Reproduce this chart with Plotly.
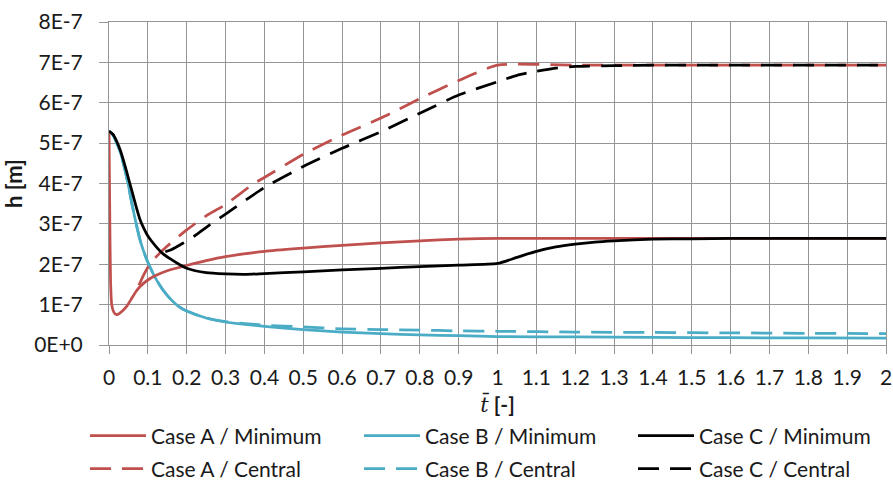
import plotly.graph_objects as go

# ---------------- data ----------------
x_a_min = [0, 0.002, 0.004, 0.007, 0.012, 0.019, 0.028, 0.045, 0.06, 0.07, 0.08, 0.1, 0.12, 0.15,
           0.2, 0.25, 0.3, 0.4, 0.5, 0.6, 0.7, 0.8, 0.9, 1.0, 1.2, 1.5, 2.0]
h_a_min = [5.3e-7, 3.2e-7, 1.6e-7, 1.0e-7, 0.82e-7, 0.75e-7, 0.79e-7, 0.95e-7, 1.18e-7, 1.33e-7,
           1.45e-7, 1.61e-7, 1.72e-7, 1.84e-7, 1.97e-7, 2.09e-7, 2.19e-7, 2.32e-7, 2.4e-7, 2.47e-7,
           2.53e-7, 2.58e-7, 2.62e-7, 2.64e-7, 2.64e-7, 2.64e-7, 2.64e-7]

x_a_cen = [0.077, 0.09, 0.105, 0.125, 0.15, 0.2, 0.25, 0.3, 0.37, 0.4, 0.5, 0.6, 0.7, 0.8, 0.9,
           1.0, 1.2, 1.5, 2.0]
h_a_cen = [1.48e-7, 1.75e-7, 2.0e-7, 2.22e-7, 2.45e-7, 2.85e-7, 3.2e-7, 3.48e-7, 3.98e-7, 4.15e-7,
           4.72e-7, 5.2e-7, 5.62e-7, 6.1e-7, 6.55e-7, 6.93e-7, 6.93e-7, 6.93e-7, 6.93e-7]

x_b_min = [0, 0.01, 0.02, 0.03, 0.04, 0.05, 0.06, 0.07, 0.08, 0.09, 0.1, 0.12, 0.14, 0.16, 0.18,
           0.2, 0.25, 0.3, 0.35, 0.4, 0.5, 0.6, 0.7, 0.8, 0.9, 1.0, 1.2, 1.4, 1.6, 1.8, 2.0]
h_b_min = [5.3e-7, 5.2e-7, 5.0e-7, 4.75e-7, 4.38e-7, 3.95e-7, 3.45e-7, 3.0e-7, 2.6e-7, 2.3e-7,
           2.05e-7, 1.65e-7, 1.35e-7, 1.12e-7, 0.95e-7, 0.84e-7, 0.67e-7, 0.57e-7, 0.51e-7, 0.46e-7,
           0.38e-7, 0.32e-7, 0.28e-7, 0.25e-7, 0.23e-7, 0.21e-7, 0.2e-7, 0.19e-7, 0.18e-7, 0.175e-7,
           0.17e-7]

x_b_cen = [0, 0.01, 0.02, 0.03, 0.04, 0.05, 0.06, 0.07, 0.08, 0.09, 0.1, 0.12, 0.14, 0.16, 0.18,
           0.2, 0.25, 0.3, 0.35, 0.4, 0.5, 0.6, 0.7, 0.8, 0.9, 1.0, 1.2, 1.4, 1.6, 1.8, 2.0]
h_b_cen = [5.3e-7, 5.2e-7, 5.0e-7, 4.75e-7, 4.38e-7, 3.95e-7, 3.45e-7, 3.0e-7, 2.6e-7, 2.3e-7,
           2.05e-7, 1.65e-7, 1.35e-7, 1.12e-7, 0.95e-7, 0.84e-7, 0.67e-7, 0.58e-7, 0.53e-7, 0.49e-7,
           0.45e-7, 0.4e-7, 0.38e-7, 0.37e-7, 0.35e-7, 0.34e-7, 0.32e-7, 0.31e-7, 0.3e-7, 0.29e-7,
           0.28e-7]

x_c_min = [0, 0.01, 0.02, 0.03, 0.04, 0.05, 0.06, 0.07, 0.08, 0.09, 0.1, 0.12, 0.14, 0.16, 0.18,
           0.2, 0.25, 0.3, 0.35, 0.4, 0.5, 0.6, 0.7, 0.8, 0.9, 1.0, 1.05, 1.1, 1.15, 1.2, 1.25, 1.3,
           1.4, 1.5, 1.6, 2.0]
h_c_min = [5.3e-7, 5.22e-7, 5.04e-7, 4.8e-7, 4.48e-7, 4.13e-7, 3.78e-7, 3.42e-7, 3.1e-7, 2.88e-7,
           2.7e-7, 2.45e-7, 2.25e-7, 2.12e-7, 2.0e-7, 1.9e-7, 1.79e-7, 1.76e-7, 1.75e-7, 1.77e-7,
           1.81e-7, 1.86e-7, 1.9e-7, 1.94e-7, 1.98e-7, 2.02e-7, 2.17e-7, 2.32e-7, 2.43e-7, 2.5e-7,
           2.55e-7, 2.58e-7, 2.62e-7, 2.63e-7, 2.64e-7, 2.64e-7]

x_c_cen = [0.145, 0.16, 0.19, 0.22, 0.26, 0.3, 0.4, 0.5, 0.6, 0.7, 0.8, 0.9, 1.0, 1.05, 1.1, 1.15,
           1.2, 1.3, 1.4, 2.0]
h_c_cen = [2.31e-7, 2.36e-7, 2.52e-7, 2.7e-7, 2.98e-7, 3.24e-7, 3.9e-7, 4.42e-7, 4.87e-7, 5.28e-7,
           5.74e-7, 6.19e-7, 6.52e-7, 6.68e-7, 6.78e-7, 6.86e-7, 6.9e-7, 6.92e-7, 6.93e-7, 6.93e-7]

x_tick_vals = [i / 10 for i in range(21)]
x_tick_text = ["0", "0.1", "0.2", "0.3", "0.4", "0.5", "0.6", "0.7", "0.8", "0.9", "1",
               "1.1", "1.2", "1.3", "1.4", "1.5", "1.6", "1.7", "1.8", "1.9", "2"]
y_tick_vals = [0, 1e-7, 2e-7, 3e-7, 4e-7, 5e-7, 6e-7, 7e-7, 8e-7]
y_tick_text = ["0E+0", "1E-7", "2E-7", "3E-7", "4E-7", "5E-7", "6E-7", "7E-7", "8E-7"]

# ---------------- styling ----------------
RED = "#C0504D"
BLUE = "#4BACC6"
BLACK = "#000000"
GRID = "#959595"
FONT = "Lato"
FS = 21
DASH = "21px,11px"
LW = 2.75

fig = go.Figure()

series = [
    ("Case A / Minimum", x_a_min, h_a_min, RED, "solid", "legend"),
    ("Case B / Minimum", x_b_min, h_b_min, BLUE, "solid", "legend"),
    ("Case C / Minimum", x_c_min, h_c_min, BLACK, "solid", "legend"),
    ("Case A / Central", x_a_cen, h_a_cen, RED, DASH, "legend2"),
    ("Case B / Central", x_b_cen, h_b_cen, BLUE, DASH, "legend2"),
    ("Case C / Central", x_c_cen, h_c_cen, BLACK, DASH, "legend2"),
]
draw_order = [4, 1, 3, 0, 5, 2]
for i in draw_order:
    name, xs, ys, col, dash, lg = series[i]
    fig.add_trace(go.Scatter(
        x=xs, y=ys, name=name, mode="lines",
        line=dict(color=col, width=LW, dash=dash, shape="spline", smoothing=0.6),
        legend=lg, legendrank=i + 1,
    ))

leg_common = dict(orientation="h", xanchor="left", yanchor="middle",
                  entrywidth=203, itemwidth=56, font=dict(size=FS, family=FONT, color="#1a1a1a"),
                  traceorder="normal", bgcolor="rgba(0,0,0,0)")

fig.update_layout(
    width=893, height=481,
    margin=dict(l=109, r=7, t=22, b=136, autoexpand=False),
    plot_bgcolor="white", paper_bgcolor="white",
    font=dict(family=FONT, size=FS, color="#1a1a1a"),
    showlegend=True,
    legend=dict(x=-0.0309, y=-0.282, **leg_common),
    legend2=dict(x=-0.0309, y=-0.384, **leg_common),
)

fig.update_xaxes(
    range=[0, 2], tickvals=x_tick_vals, ticktext=x_tick_text,
    showgrid=True, gridcolor=GRID, gridwidth=1,
    showline=True, linecolor=GRID, linewidth=1, mirror=True,
    ticks="outside", ticklen=8, tickcolor=GRID, tickwidth=1,
    zeroline=False, ticklabelstandoff=6,
    title=dict(text='<span style="font-family:DejaVu Serif"><i>t̄</i></span><b> [-]</b>',
               font=dict(size=FS, family=FONT), standoff=9),
)
fig.update_yaxes(
    range=[0, 8e-7], tickvals=y_tick_vals, ticktext=y_tick_text,
    showgrid=True, gridcolor=GRID, gridwidth=1,
    showline=True, linecolor=GRID, linewidth=1, mirror=True,
    ticks="outside", ticklen=9, tickcolor=GRID, tickwidth=1,
    zeroline=False, ticklabelstandoff=12,
    title=dict(text="<b>h [m]</b>", font=dict(size=22, family=FONT), standoff=6),
)

fig.write_html("out.html",
               config={"displayModeBar": False},
               post_script="document.body.style.margin='0px';document.body.style.overflow='hidden';")
